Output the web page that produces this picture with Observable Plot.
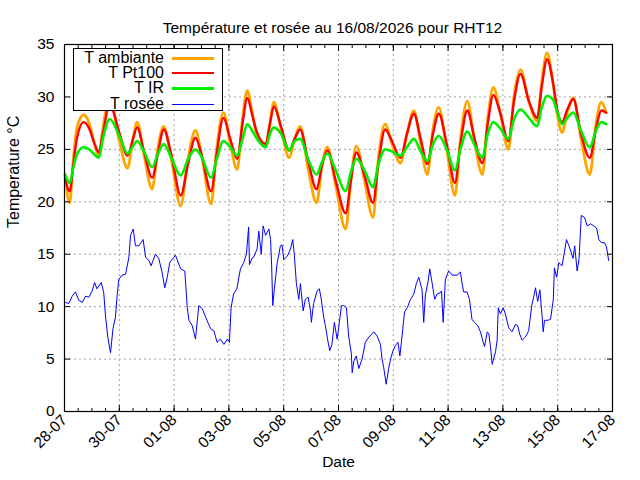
<!DOCTYPE html>
<html><head><meta charset="utf-8">
<script src="https://cdn.jsdelivr.net/npm/d3@7"></script>
<script src="https://cdn.jsdelivr.net/npm/@observablehq/plot@0.6"></script>
<style>
body{margin:0;background:#fff;font-family:"Liberation Sans",Arial,sans-serif;}
#wrap{position:relative;width:640px;height:480px;overflow:hidden;}
#legend{position:absolute;left:73px;top:48px;width:148px;height:61px;border:1px solid #000;background:#fff;}
.row{position:absolute;left:0;width:148px;height:15px;}
.row span{position:absolute;right:58px;top:0;font-size:16px;line-height:15px;height:15px;white-space:nowrap;color:#000;}
.row i{position:absolute;left:98px;width:42px;}
</style></head><body><div id="wrap"></div>
<script>
const title = "Température et rosée au 16/08/2026 pour RHT12";
const dateLabels = ["28-07","30-07","01-08","03-08","05-08","07-08","09-08","11-08","13-08","15-08","17-08"];
const yTicks = [0,5,10,15,20,25,30,35];
const seriesNames = ["T ambiante","T Pt100","T IR","T rosée"];
const seriesColors = ["#ffa500","#ff0000","#00ee00","#0000ff"];
const seriesWidths = [2.8,2.4,2.6,1];

// time in days since 28-07 00:00
const tDays = [0.02,0.19,0.32,0.45,0.7,0.9,1.1,1.25,1.4,1.65,2.0,2.3,2.5,2.65,2.9,3.2,3.4,3.62,3.9,4.24,4.5,4.78,5.0,5.35,5.55,5.8,6.05,6.3,6.5,6.67,6.85,7.0,7.34,7.5,7.64,7.9,8.2,8.4,8.6,8.9,9.2,9.4,9.59,9.9,10.26,10.45,10.65,10.95,11.26,11.45,11.7,11.95,12.26,12.5,12.75,13.0,13.24,13.45,13.66,13.95,14.25,14.45,14.7,14.95,15.25,15.45,15.65,15.9,16.2,16.4,16.64,16.95,17.25,17.42,17.61,17.82,17.98,18.16,18.35,18.57,18.85,19.17,19.4,19.59,19.77];
const ambiante = [22.6,19.9,24.0,27.0,28.3,27.5,25.5,24.4,27.0,30.0,25.8,23.2,26.0,27.6,24.5,21.2,25.0,27.2,24.0,19.6,24.0,26.8,24.5,19.8,25.0,28.5,25.5,23.1,28.0,30.6,28.5,26.6,25.3,27.5,29.5,27.0,24.2,26.0,27.2,23.0,19.9,23.5,25.2,21.5,17.4,22.0,25.3,22.0,18.5,24.0,27.4,25.5,23.7,26.5,28.7,25.5,22.6,27.0,29.0,25.0,20.6,26.0,29.6,26.0,22.6,28.0,30.9,28.5,25.0,30.0,32.6,29.5,27.7,31.5,34.2,31.5,28.4,26.6,28.5,29.9,26.0,22.6,27.5,29.5,28.5];
const pt100 = [22.3,21.0,23.5,26.0,27.6,27.0,25.5,24.7,26.5,29.3,26.6,24.4,26.0,27.1,24.8,22.3,24.5,26.9,24.5,20.6,23.5,26.1,24.5,21.0,24.5,28.0,26.0,24.1,27.5,29.9,28.3,26.8,25.5,27.5,29.1,27.2,24.9,26.0,26.9,23.8,21.2,23.5,24.9,22.0,18.9,22.0,24.7,22.5,19.9,23.5,26.9,25.8,24.2,26.5,28.4,26.0,23.6,26.5,28.4,25.5,21.8,25.5,28.7,26.2,23.7,27.5,30.2,28.5,25.8,29.5,32.2,29.6,28.0,31.0,33.6,31.5,28.8,27.6,28.8,29.8,26.5,24.2,27.0,28.7,28.5];
const ir = [22.6,21.8,23.2,24.5,25.2,25.0,24.5,24.2,26.0,27.9,26.3,24.6,25.3,25.8,24.8,23.3,24.5,25.5,24.2,22.5,24.0,25.0,24.3,22.3,24.0,25.8,25.2,24.4,26.0,27.4,26.8,26.1,25.2,26.5,27.1,26.5,24.9,25.8,26.0,24.0,22.6,23.8,24.6,23.0,21.0,22.8,24.1,23.0,21.4,23.5,25.0,24.8,24.4,25.2,26.0,24.8,23.9,25.5,26.3,25.0,23.0,25.0,26.7,25.5,24.2,26.5,27.6,27.0,26.0,27.8,28.8,28.0,27.2,29.0,30.1,29.8,28.6,27.4,28.0,28.5,26.8,25.2,26.8,27.6,27.4];

const roseeT = [0.04,0.16,0.28,0.40,0.52,0.65,0.77,0.89,1.01,1.10,1.18,1.34,1.43,1.50,1.58,1.68,1.77,1.86,1.92,1.98,2.10,2.23,2.35,2.41,2.51,2.59,2.71,2.87,2.96,3.08,3.16,3.32,3.44,3.56,3.66,3.75,3.84,4.05,4.24,4.39,4.48,4.54,4.66,4.78,4.90,5.03,5.15,5.33,5.45,5.57,5.69,5.82,5.94,6.02,6.08,6.17,6.29,6.42,6.54,6.64,6.72,6.75,6.84,6.90,7.03,7.09,7.18,7.25,7.34,7.46,7.52,7.56,7.60,7.66,7.76,7.88,7.94,8.00,8.13,8.25,8.33,8.39,8.46,8.55,8.61,8.71,8.79,8.89,8.98,9.01,9.09,9.22,9.30,9.36,9.46,9.52,9.60,9.68,9.76,9.85,9.95,10.04,10.11,10.19,10.29,10.37,10.47,10.50,10.56,10.65,10.74,10.86,10.98,11.11,11.29,11.41,11.53,11.59,11.65,11.74,11.83,11.92,11.99,12.08,12.17,12.24,12.32,12.41,12.51,12.63,12.75,12.84,12.93,13.05,13.11,13.17,13.27,13.33,13.42,13.51,13.60,13.70,13.76,13.82,13.90,14.02,14.15,14.33,14.45,14.51,14.57,14.69,14.78,14.87,14.96,15.08,15.18,15.28,15.33,15.43,15.49,15.55,15.61,15.67,15.73,15.79,15.83,15.91,16.01,16.09,16.21,16.33,16.46,16.54,16.61,16.70,16.82,16.94,17.00,17.06,17.13,17.19,17.27,17.35,17.43,17.47,17.52,17.64,17.74,17.84,17.88,17.96,18.04,18.16,18.25,18.32,18.41,18.49,18.56,18.62,18.71,18.78,18.86,18.98,19.08,19.20,19.32,19.42,19.50,19.59,19.71,19.78,19.86];
const rosee = [10.4,10.3,11.0,11.4,10.6,10.4,11.0,10.9,11.5,12.3,11.7,12.3,11.4,9.0,7.1,5.6,7.9,9.0,11.0,12.6,13.0,13.1,14.7,16.8,17.4,15.8,15.8,16.4,14.7,14.4,13.9,15.0,14.6,13.3,11.8,12.8,14.2,14.9,13.6,13.4,9.9,8.7,8.2,6.9,10.1,9.8,9.0,7.9,7.7,6.6,6.9,6.4,6.9,6.6,9.9,11.2,11.7,13.6,14.2,15.0,17.6,14.0,14.6,14.7,15.5,17.2,15.0,17.7,16.8,17.4,16.4,13.9,10.1,11.7,14.1,15.8,15.9,14.5,14.8,15.5,16.4,14.9,12.3,10.7,12.2,9.6,10.7,10.9,9.6,8.5,10.3,11.5,11.7,10.9,9.0,8.2,6.9,5.8,6.4,8.5,6.9,8.7,10.1,10.1,9.9,7.2,5.5,3.7,4.8,5.3,4.1,5.0,6.6,7.1,7.6,7.2,6.4,5.0,4.2,2.6,4.1,5.2,5.8,6.3,6.6,5.3,7.2,9.5,9.9,10.7,11.2,12.2,12.8,11.6,8.5,11.1,12.4,13.6,12.2,10.7,11.2,11.3,11.5,8.5,12.6,13.4,13.0,13.0,13.3,12.2,11.4,11.4,10.7,8.8,8.5,8.2,7.6,6.6,6.2,7.6,7.4,6.1,4.5,5.1,5.7,6.8,9.9,9.3,9.9,9.3,8.0,7.6,8.3,8.2,7.4,6.8,7.1,7.7,9.0,10.2,11.0,11.8,10.5,11.6,9.1,7.6,8.7,8.7,8.8,10.7,13.7,12.8,14.2,13.9,15.3,16.4,15.8,15.2,14.6,15.8,13.4,14.6,18.7,18.5,17.7,17.9,17.7,17.5,16.4,16.1,16.1,15.7,14.4];

const tempRows = tDays.map((t,i)=>({t, a:ambiante[i], p:pt100[i], r:ir[i]}));
const roseeRows = roseeT.map((t,i)=>({t, v:rosee[i]}));
const majorX = dateLabels.map((d,i)=>i*2);
const minorX = d3.range(0, 20.01, 0.5);
const grid = {stroke:"#a0a0a0", strokeOpacity:1, strokeWidth:1, strokeDasharray:"2,3"};
const font = "Liberation Sans, Arial, sans-serif";

const chart = Plot.plot({
  width:640, height:480,
  marginLeft:64, marginRight:28, marginTop:44, marginBottom:69,
  style:{fontFamily:font, fontSize:"15px", background:"#fff", color:"#000", overflow:"visible"},
  x:{domain:[0,20]},
  y:{domain:[0,35]},
  marks:[
    Plot.gridX(majorX, grid),
    Plot.gridY(yTicks, grid),
    Plot.line(tempRows, {x:"t", y:"a", stroke:seriesColors[0], strokeWidth:seriesWidths[0], curve:"monotone-x"}),
    Plot.line(tempRows, {x:"t", y:"p", stroke:seriesColors[1], strokeWidth:seriesWidths[1], curve:"monotone-x"}),
    Plot.line(tempRows, {x:"t", y:"r", stroke:seriesColors[2], strokeWidth:seriesWidths[2], curve:"monotone-x"}),
    Plot.line(roseeRows, {x:"t", y:"v", stroke:seriesColors[3], strokeWidth:seriesWidths[3]}),
    Plot.frame({stroke:"#000", strokeWidth:1.2}),
    Plot.axisY(yTicks, {anchor:"left", tickSize:0, tickPadding:10, label:null, fontSize:15.5}),
    Plot.axisY(yTicks, {anchor:"left", tickSize:-6, tickFormat:()=>"", label:null}),
    Plot.axisY(yTicks, {anchor:"right", tickSize:-6, tickFormat:()=>"", label:null}),
    Plot.axisX(majorX, {anchor:"bottom", tickSize:0, tickPadding:6, tickRotate:-45, tickFormat:d=>dateLabels[d/2], label:null, fontSize:15.5}),
    Plot.axisX(majorX, {anchor:"bottom", tickSize:-6, tickFormat:()=>"", label:null}),
    Plot.axisX(minorX, {anchor:"bottom", tickSize:-3, tickFormat:()=>"", label:null}),
    Plot.axisX(majorX, {anchor:"top", tickSize:-6, tickFormat:()=>"", label:null}),
    Plot.axisX(minorX, {anchor:"top", tickSize:-3, tickFormat:()=>"", label:null}),
    Plot.text([title], {text:d=>d, frameAnchor:"top", dx:-6, dy:-23, fontSize:15.5}),
    Plot.text(["Date"], {text:d=>d, frameAnchor:"bottom", dy:55, fontSize:15.5}),
    Plot.text(["Temperature °C"], {text:d=>d, frameAnchor:"left", dx:-51, rotate:-90, fontSize:16})
  ]
});
const wrap = document.getElementById("wrap");
wrap.appendChild(chart);

const legend = document.createElement("div");
legend.id = "legend";
seriesNames.forEach((name,i)=>{
  const row = document.createElement("div");
  row.className = "row";
  row.style.top = (0.5 + i*15.4) + "px";
  const s = document.createElement("span");
  s.textContent = name;
  const l = document.createElement("i");
  l.style.top = Math.round(8 - seriesWidths[i]/2) + "px";
  l.style.height = Math.max(1, Math.round(seriesWidths[i])) + "px";
  l.style.background = seriesColors[i];
  row.appendChild(s); row.appendChild(l);
  legend.appendChild(row);
});
wrap.appendChild(legend);
</script></body></html>
